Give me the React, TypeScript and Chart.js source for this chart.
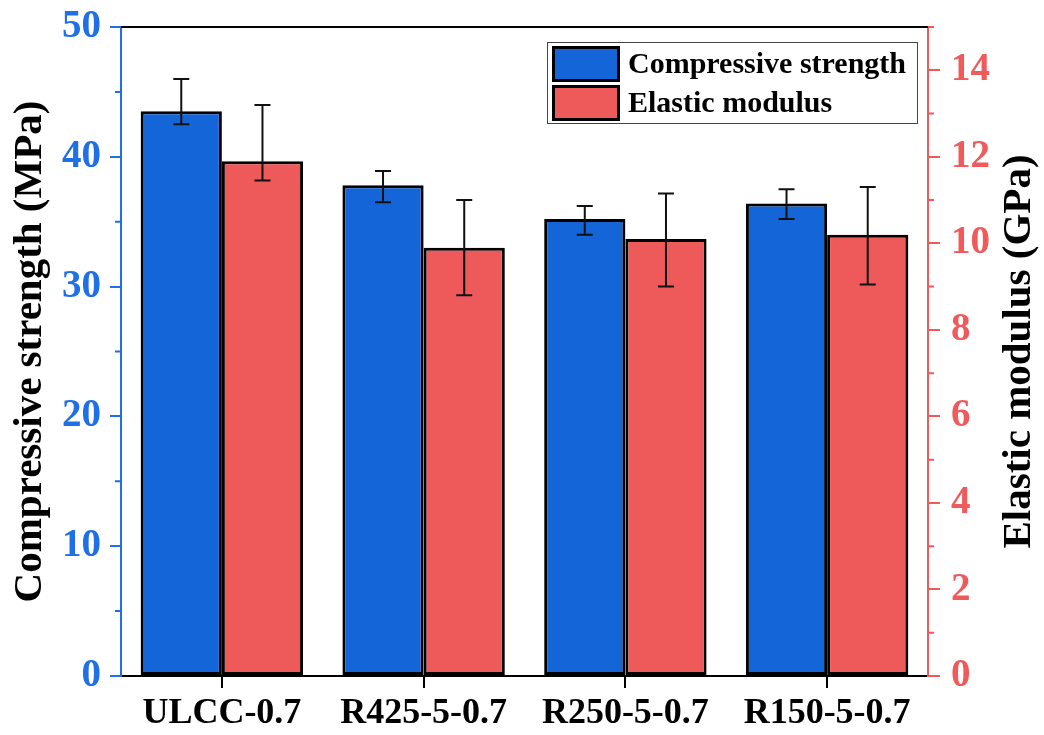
import React, { useEffect, useRef } from "react";
import { Chart, registerables } from "chart.js";

Chart.register(...registerables);

const categories = ["ULCC-0.7", "R425-5-0.7", "R250-5-0.7", "R150-5-0.7"];
const strength = [43.5, 37.8, 35.2, 36.4];
const strengthHigh = [46.0, 38.9, 36.2, 37.5];
const strengthLow = [42.5, 36.5, 34.0, 35.2];
const modulus = [11.9, 9.9, 10.1, 10.2];
const modulusHigh = [13.2, 11.0, 11.15, 11.3];
const modulusLow = [11.45, 8.8, 9.0, 9.05];
const leftTicks = [0, 10, 20, 30, 40, 50];
const rightTicks = [0, 2, 4, 6, 8, 10, 12, 14];
const rightTitle = "Elastic modulus (GPa)";

const FONT = "'Liberation Serif', 'Times New Roman', serif";
const BLUE_BAR = "#1466d8";
const RED_BAR = "#ee5959";
const BLUE_AX = "#1f6fe6";
const RED_AX = "#f05a5a";

const errorBars = {
  id: "errorBars",
  afterDatasetsDraw(chart: any) {
    const ctx = chart.ctx;
    const sets = [
      { i: 0, hi: strengthHigh, lo: strengthLow, scale: chart.scales.y },
      { i: 1, hi: modulusHigh, lo: modulusLow, scale: chart.scales.y1 },
    ];
    ctx.save();
    ctx.strokeStyle = "#111";
    ctx.lineWidth = 2;
    sets.forEach((s) => {
      const meta = chart.getDatasetMeta(s.i);
      meta.data.forEach((el: any, k: number) => {
        const x = el.x;
        const yh = s.scale.getPixelForValue(s.hi[k]);
        const yl = s.scale.getPixelForValue(s.lo[k]);
        ctx.beginPath();
        ctx.moveTo(x, yh);
        ctx.lineTo(x, yl);
        ctx.moveTo(x - 8, yh);
        ctx.lineTo(x + 8, yh);
        ctx.moveTo(x - 8, yl);
        ctx.lineTo(x + 8, yl);
        ctx.stroke();
      });
    });
    ctx.restore();
  },
};

const frameAndMinor = {
  id: "frameAndMinor",
  afterDraw(chart: any) {
    const ctx = chart.ctx;
    const a = chart.chartArea;
    const y = chart.scales.y;
    const y1 = chart.scales.y1;
    ctx.save();
    ctx.strokeStyle = "#000";
    ctx.lineWidth = 2;
    ctx.beginPath();
    ctx.moveTo(a.left, a.top);
    ctx.lineTo(a.right, a.top);
    ctx.stroke();
    ctx.strokeStyle = BLUE_AX;
    ctx.beginPath();
    for (let v = 5; v < 50; v += 10) {
      const py = y.getPixelForValue(v);
      ctx.moveTo(a.left, py);
      ctx.lineTo(a.left - 6, py);
    }
    ctx.stroke();
    ctx.strokeStyle = RED_AX;
    ctx.beginPath();
    for (let v = 1; v <= 15; v += 2) {
      const py = y1.getPixelForValue(v);
      ctx.moveTo(a.right, py);
      ctx.lineTo(a.right + 6, py);
    }
    ctx.stroke();
    ctx.fillStyle = "#000";
    ctx.font = `bold 41px ${FONT}`;
    ctx.textAlign = "center";
    ctx.textBaseline = "middle";
    ctx.translate(1019, (a.top + a.bottom) / 2);
    ctx.rotate(-Math.PI / 2);
    ctx.fillText(rightTitle, 0, 0);
    ctx.restore();
  },
};

const boxLegend = {
  id: "boxLegend",
  afterDraw(chart: any) {
    const ctx = chart.ctx;
    ctx.save();
    ctx.fillStyle = "#fff";
    ctx.fillRect(547, 42, 370, 81);
    ctx.strokeStyle = "#444";
    ctx.lineWidth = 1;
    ctx.strokeRect(547.5, 42.5, 370, 81);
    const items = chart.data.datasets;
    const rows = [46, 85];
    items.forEach((ds: any, i: number) => {
      const top = rows[i];
      ctx.fillStyle = ds.backgroundColor;
      ctx.fillRect(552, top, 68, 36);
      ctx.strokeStyle = "#000";
      ctx.lineWidth = 3;
      ctx.strokeRect(553.5, top + 1.5, 65, 33);
      ctx.fillStyle = "#000";
      ctx.font = `bold 30px ${FONT}`;
      ctx.textBaseline = "middle";
      ctx.textAlign = "left";
      ctx.fillText(ds.label, 628, top + 19);
    });
    ctx.restore();
  },
};

export default function App() {
  const ref = useRef<HTMLCanvasElement | null>(null);
  useEffect(() => {
    document.body.style.margin = "0";
    const canvas = ref.current;
    if (!canvas) return;
    const chart = new Chart(canvas, {
      type: "bar",
      data: {
        labels: categories,
        datasets: [
          {
            label: "Compressive strength",
            data: strength,
            backgroundColor: BLUE_BAR,
            borderColor: "#000",
            borderWidth: 3,
            borderSkipped: false,
            yAxisID: "y",
          },
          {
            label: "Elastic modulus",
            data: modulus,
            backgroundColor: RED_BAR,
            borderColor: "#000",
            borderWidth: 3,
            borderSkipped: false,
            yAxisID: "y1",
          },
        ],
      },
      options: {
        responsive: false,
        animation: false,
        layout: { padding: { top: 27, left: 0, right: 0, bottom: 0 } },
        plugins: {
          legend: { display: false },
          tooltip: { enabled: false },
        },
        datasets: { bar: { categoryPercentage: 0.805, barPercentage: 1.0 } },
        scales: {
          x: {
            offset: true,
            grid: {
              offset: false,
              drawOnChartArea: false,
              drawTicks: true,
              tickLength: 12,
              color: "#000",
              lineWidth: 2,
            },
            border: { color: "#000", width: 2 },
            ticks: {
              color: "#000",
              font: { family: FONT, size: 36, weight: "bold" },
              padding: 4,
              maxRotation: 0,
            },
            afterFit: (s: any) => {
              s.height = 59;
              s.paddingLeft = 0;
              s.paddingRight = 0;
            },
          },
          y: {
            position: "left",
            min: 0,
            max: 50,
            afterBuildTicks: (s: any) => {
              s.ticks = leftTicks.map((v) => ({ value: v }));
            },
            grid: {
              drawOnChartArea: false,
              tickLength: 11,
              color: BLUE_AX,
              lineWidth: 2,
            },
            border: { color: BLUE_AX, width: 2 },
            ticks: {
              color: BLUE_AX,
              font: { family: FONT, size: 39, weight: "bold" },
              padding: 9,
            },
            title: {
              display: true,
              text: "Compressive strength (MPa)",
              color: "#000",
              font: { family: FONT, size: 41, weight: "bold" },
              padding: { top: 6, bottom: 0 },
            },
            afterFit: (s: any) => {
              s.width = 121;
              s.paddingTop = 0;
              s.paddingBottom = 0;
            },
          },
          y1: {
            position: "right",
            min: 0,
            max: 15,
            afterBuildTicks: (s: any) => {
              s.ticks = rightTicks.map((v) => ({ value: v }));
            },
            grid: {
              drawOnChartArea: false,
              tickLength: 12,
              color: RED_AX,
              lineWidth: 2,
            },
            border: { color: RED_AX, width: 2 },
            ticks: {
              color: RED_AX,
              font: { family: FONT, size: 39, weight: "bold" },
              padding: 11,
            },
            afterFit: (s: any) => {
              s.width = 116;
              s.paddingTop = 0;
              s.paddingBottom = 0;
            },
          },
        },
      },
      plugins: [errorBars, frameAndMinor, boxLegend],
    } as any);
    return () => chart.destroy();
  }, []);
  return (
    <div style={{ width: 1044, height: 735, background: "#fff" }}>
      <canvas ref={ref} width={1044} height={735} />
    </div>
  );
}
